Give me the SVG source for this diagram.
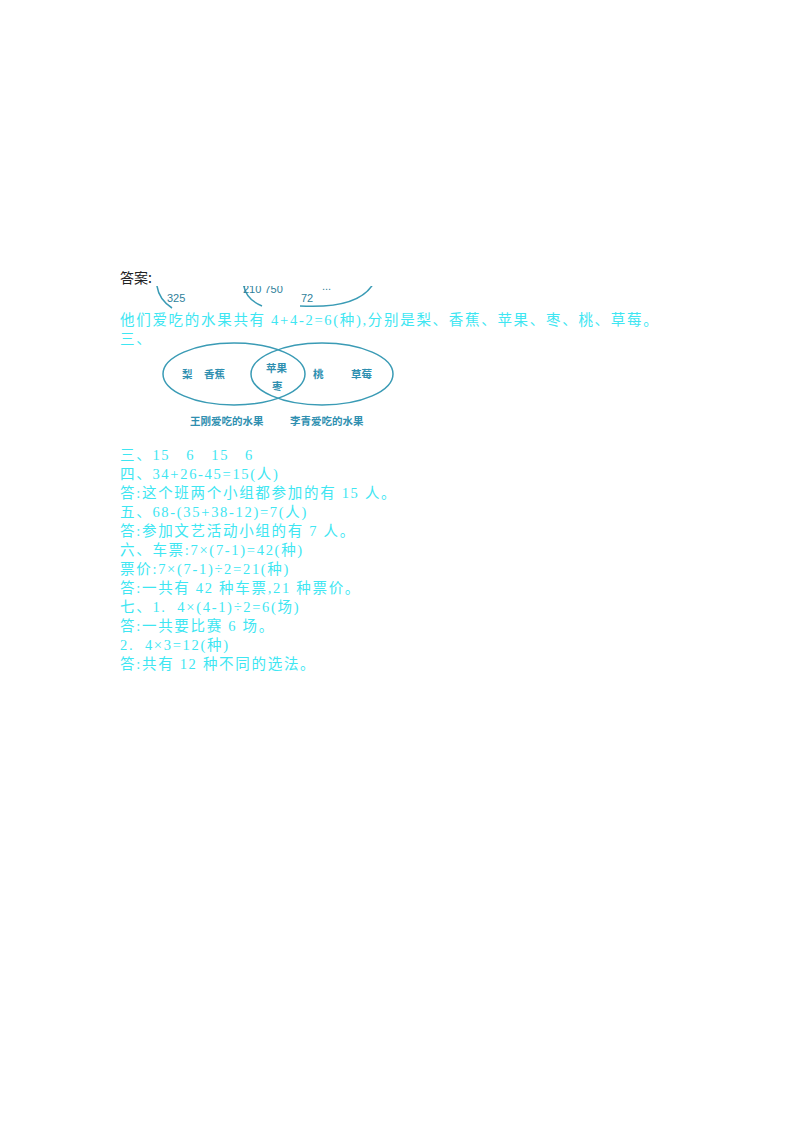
<svg xmlns="http://www.w3.org/2000/svg" width="800" height="1132" viewBox="0 0 800 1132">
<style>
.t{font-family:"Liberation Serif","Noto Sans CJK SC",serif;font-size:14.5px;fill:#3ee6f2;letter-spacing:1.7px}
.v{fill:none;stroke:#3a9bb5;stroke-width:1.5}
.l{font-family:"Noto Sans CJK SC",sans-serif;font-size:10.5px;fill:#2f8fb0;font-weight:bold}
.n{font-family:"Liberation Sans",sans-serif;font-size:11px;fill:#2f7f9a}
</style>
<defs><clipPath id="c"><rect x="140" y="286" width="260" height="24"/></clipPath></defs>
<text x="120" y="283" font-family="Noto Sans CJK SC,sans-serif" font-size="14" fill="#222">答案:</text>
<g id="fragment" clip-path="url(#c)">
<path class="v" d="M158 270 Q152 295 172 308"/>
<path class="v" d="M245 270 Q238 296 262 306"/>
<path class="v" d="M300 306 Q372 310 378 270"/>
<text class="n" x="167" y="302">325</text>
<text class="n" x="243" y="293">210 750</text>
<text class="n" x="301" y="302">72</text>
<text class="n" x="322" y="290">...</text>
</g>
<text class="t" x="120" y="325">他们爱吃的水果共有 4+4-2=6(种),分别是梨、香蕉、苹果、枣、桃、草莓。</text>
<text class="t" x="120" y="344">三、</text>
<g id="venn">
<ellipse id="left" class="v" cx="234" cy="374" rx="71" ry="31"/>
<ellipse id="right" class="v" cx="322" cy="374" rx="71" ry="31"/>
<text class="l" x="182" y="378">梨</text>
<text class="l" x="204" y="378">香蕉</text>
<text class="l" x="266" y="372">苹果</text>
<text class="l" x="272" y="390">枣</text>
<text class="l" x="313" y="378">桃</text>
<text class="l" x="351" y="378">草莓</text>
<text class="l" x="190" y="425">王刚爱吃的水果</text>
<text class="l" x="290" y="425">李青爱吃的水果</text>
</g>
<g>
<text class="t" x="120" y="460" xml:space="preserve">三、15   6   15   6</text>
<text class="t" x="120" y="479">四、34+26-45=15(人)</text>
<text class="t" x="120" y="498">答:这个班两个小组都参加的有 15 人。</text>
<text class="t" x="120" y="517">五、68-(35+38-12)=7(人)</text>
<text class="t" x="120" y="536">答:参加文艺活动小组的有 7 人。</text>
<text class="t" x="120" y="555">六、车票:7×(7-1)=42(种)</text>
<text class="t" x="120" y="574">票价:7×(7-1)÷2=21(种)</text>
<text class="t" x="120" y="593">答:一共有 42 种车票,21 种票价。</text>
<text class="t" x="120" y="612" xml:space="preserve">七、1.  4×(4-1)÷2=6(场)</text>
<text class="t" x="120" y="631">答:一共要比赛 6 场。</text>
<text class="t" x="120" y="650" xml:space="preserve">2.  4×3=12(种)</text>
<text class="t" x="120" y="669">答:共有 12 种不同的选法。</text>
</g>
</svg>
